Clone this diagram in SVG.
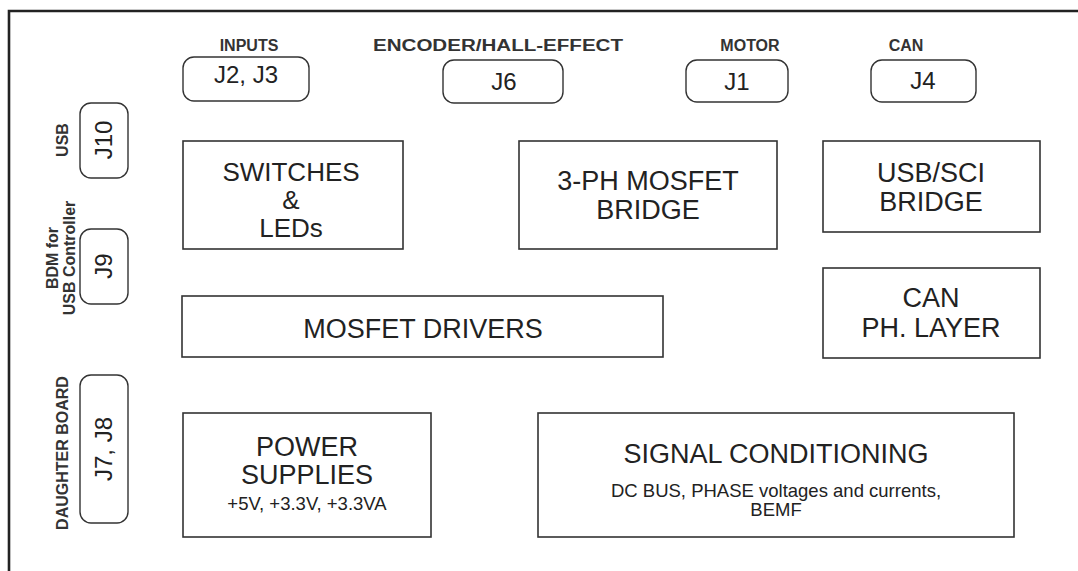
<svg xmlns="http://www.w3.org/2000/svg" width="1078" height="571" viewBox="0 0 1078 571">
<style>
.frame{fill:none;stroke:#222;stroke-width:2.6}
.box{fill:#fff;stroke:#333;stroke-width:1.6}
.conn{fill:#fff;stroke:#333;stroke-width:1.4}
.lbl{font-family:"Liberation Sans",Arial,sans-serif;font-weight:bold;font-size:16px;fill:#333;text-anchor:middle}
.jt{font-family:"Liberation Sans",Arial,sans-serif;font-size:24px;fill:#222;text-anchor:middle}
.bt{font-family:"Liberation Sans",Arial,sans-serif;font-size:27px;fill:#222;text-anchor:middle}
.bs{font-family:"Liberation Sans",Arial,sans-serif;font-size:26px;fill:#222;text-anchor:middle}
.st{font-family:"Liberation Sans",Arial,sans-serif;font-size:18.5px;fill:#222;text-anchor:middle}
</style>
<rect width="1078" height="571" fill="#fff"/>
<path class="frame" d="M9,571 V11 H1078"/>
<g id="connectors">
<g id="j2j3"><text class="lbl" x="249" y="51">INPUTS</text><rect class="conn" x="183" y="57" width="126" height="44" rx="11"/><text class="jt" x="246" y="83">J2, J3</text></g>
<g id="j6"><text class="lbl" x="498" y="51" textLength="250" lengthAdjust="spacingAndGlyphs">ENCODER/HALL-EFFECT</text><rect class="conn" x="443" y="60" width="120" height="43" rx="11"/><text class="jt" x="504" y="90">J6</text></g>
<g id="j1"><text class="lbl" x="750" y="51">MOTOR</text><rect class="conn" x="686" y="60" width="102" height="42" rx="11"/><text class="jt" x="737" y="90">J1</text></g>
<g id="j4"><text class="lbl" x="906" y="51">CAN</text><rect class="conn" x="871" y="60" width="105" height="42" rx="11"/><text class="jt" x="923" y="89">J4</text></g>
<g id="j10"><text class="lbl" transform="translate(68,140) rotate(-90)">USB</text><rect class="conn" x="80" y="103" width="48" height="75" rx="11"/><text class="jt" transform="translate(112,140) rotate(-90)">J10</text></g>
<g id="j9"><text class="lbl" transform="translate(58,258) rotate(-90)">BDM for</text><text class="lbl" transform="translate(75,258) rotate(-90)">USB Controller</text><rect class="conn" x="80" y="229" width="48" height="75" rx="11"/><text class="jt" transform="translate(112,266) rotate(-90)">J9</text></g>
<g id="j7j8"><text class="lbl" transform="translate(68,453) rotate(-90)">DAUGHTER BOARD</text><rect class="conn" x="80" y="375" width="48" height="148" rx="11"/><text class="jt" transform="translate(112,449) rotate(-90)">J7, J8</text></g>
</g>
<g id="switches"><rect class="box" x="183" y="141" width="220" height="108"/><text class="bs" x="291" y="181">SWITCHES</text><text class="bs" x="291" y="209">&amp;</text><text class="bs" x="291" y="237">LEDs</text></g>
<g id="bridge"><rect class="box" x="519" y="141" width="258" height="108"/><text class="bt" x="648" y="190">3-PH MOSFET</text><text class="bt" x="648" y="219">BRIDGE</text></g>
<g id="usbsci"><rect class="box" x="823" y="141" width="217" height="91"/><text class="bt" x="931" y="182">USB/SCI</text><text class="bt" x="931" y="211">BRIDGE</text></g>
<g id="canphy"><rect class="box" x="823" y="268" width="217" height="90"/><text class="bt" x="931" y="307">CAN</text><text class="bt" x="931" y="337">PH. LAYER</text></g>
<g id="drivers"><rect class="box" x="182" y="296" width="481" height="61"/><text class="bt" x="423" y="338">MOSFET DRIVERS</text></g>
<g id="power"><rect class="box" x="183" y="413" width="248" height="124"/><text class="bt" x="307" y="456">POWER</text><text class="bt" x="307" y="484">SUPPLIES</text><text class="st" x="307" y="510">+5V, +3.3V, +3.3VA</text></g>
<g id="signal"><rect class="box" x="538" y="413" width="476" height="124"/><text class="bt" x="776" y="463">SIGNAL CONDITIONING</text><text class="st" x="776" y="497">DC BUS, PHASE voltages and currents,</text><text class="st" x="776" y="516">BEMF</text></g>
</svg>
